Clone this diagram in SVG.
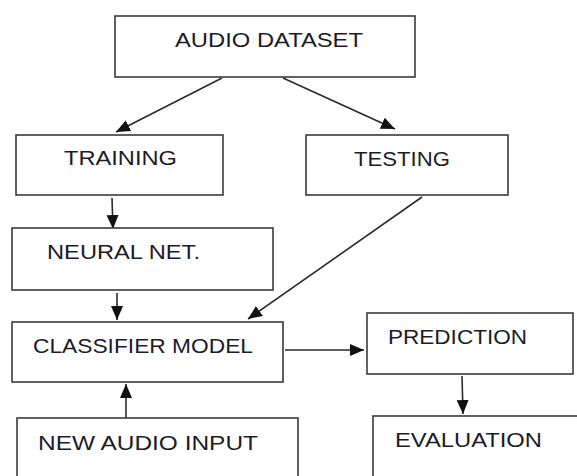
<svg xmlns="http://www.w3.org/2000/svg" width="577" height="476" viewBox="0 0 577 476">
<style>
.box{fill:#fff;stroke:#3a3a3a;stroke-width:1.6}
.lbl{font-family:"Liberation Sans",Arial,sans-serif;font-size:21px;fill:#1c1c28}
.con{stroke:#2a2a2a;stroke-width:1.6;fill:none;marker-end:url(#ah)}
</style>
<defs>
<marker id="ah" markerUnits="userSpaceOnUse" markerWidth="15" markerHeight="15" viewBox="0 0 15 15" refX="14" refY="7.5" orient="auto">
<path d="M0,1.5 L14,7.5 L0,13.5 Z" fill="#111"/>
</marker>
</defs>
<rect width="577" height="476" fill="#fff"/>
<g id="connectors">
<line class="con" x1="222" y1="78" x2="116" y2="132"/>
<line class="con" x1="283" y1="78" x2="395" y2="129"/>
<line class="con" x1="112" y1="198" x2="113" y2="229"/>
<line class="con" x1="422" y1="197" x2="248" y2="319"/>
<line class="con" x1="117" y1="293" x2="117" y2="320"/>
<line class="con" x1="126" y1="423" x2="126" y2="384"/>
<line class="con" x1="285" y1="350" x2="364" y2="350"/>
<line class="con" x1="462" y1="376" x2="463" y2="414"/>
</g>
<g id="audio-dataset">
<rect class="box" x="115" y="16" width="300" height="61"/>
<text class="lbl" x="175" y="47" textLength="188" lengthAdjust="spacingAndGlyphs">AUDIO DATASET</text>
</g>
<g id="training">
<rect class="box" x="16" y="135" width="207" height="60"/>
<text class="lbl" x="64" y="165" textLength="113" lengthAdjust="spacingAndGlyphs">TRAINING</text>
</g>
<g id="testing">
<rect class="box" x="306" y="135" width="202" height="60"/>
<text class="lbl" x="354" y="166" textLength="96" lengthAdjust="spacingAndGlyphs">TESTING</text>
</g>
<g id="neural-net">
<rect class="box" x="12" y="228" width="261" height="62"/>
<text class="lbl" x="47" y="259" textLength="153" lengthAdjust="spacingAndGlyphs">NEURAL NET.</text>
</g>
<g id="classifier-model">
<rect class="box" x="12" y="322" width="271" height="60"/>
<text class="lbl" x="33" y="353" textLength="220" lengthAdjust="spacingAndGlyphs">CLASSIFIER MODEL</text>
</g>
<g id="prediction">
<rect class="box" x="367" y="313" width="206" height="61"/>
<text class="lbl" x="388" y="344" textLength="139" lengthAdjust="spacingAndGlyphs">PREDICTION</text>
</g>
<g id="new-audio-input">
<rect class="box" x="17" y="418" width="281" height="70"/>
<text class="lbl" x="38" y="450" textLength="220" lengthAdjust="spacingAndGlyphs">NEW AUDIO INPUT</text>
</g>
<g id="evaluation">
<rect class="box" x="373" y="416" width="210" height="70"/>
<text class="lbl" x="395" y="447" textLength="147" lengthAdjust="spacingAndGlyphs">EVALUATION</text>
</g>
</svg>
